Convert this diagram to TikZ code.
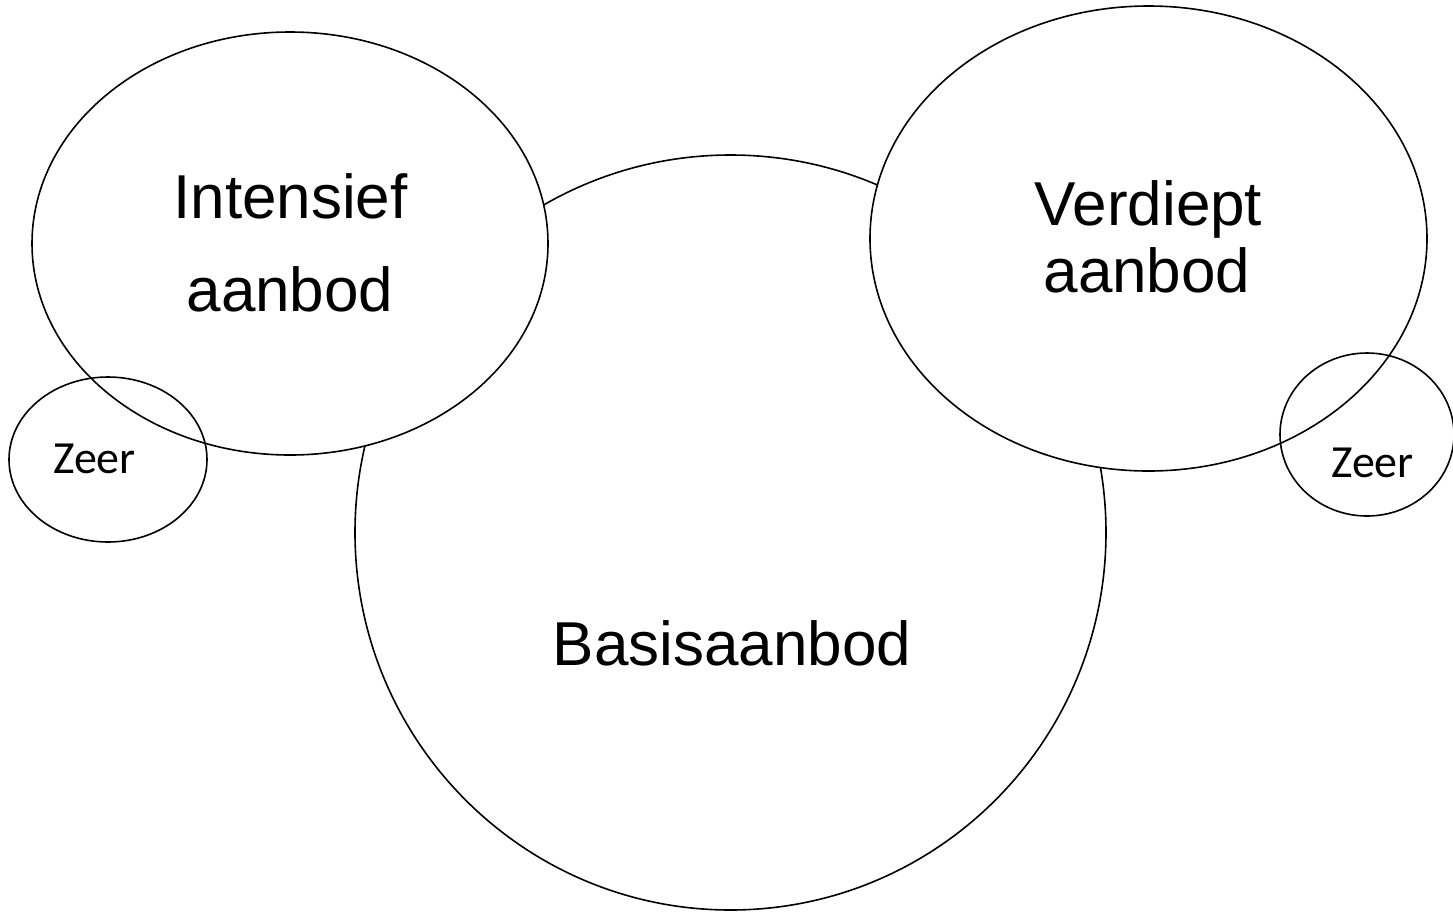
\documentclass[tikz,border=0pt]{standalone}
\usepackage{fontspec}
\setmainfont{Liberation Sans}
\newfontfamily\zeerfont{Carlito}
\usepackage{tikz}
\usetikzlibrary{shapes.geometric}

\begin{document}
\begin{tikzpicture}[x = 0.5pt, y = -0.5pt]
\tikzset{
  bubble/.style = {ellipse, draw, line width = 0.8pt, inner sep = 0pt},
  bigtext/.style = {anchor = base, font = \fontsize{31}{36}\selectfont},
  zeertext/.style = {anchor = base, font = \zeerfont\fontsize{23}{28}\selectfont}
}
\useasboundingbox (0, 0) rectangle (1453, 912);

% basis
\node [bubble, fill = white, minimum width = 375.5pt, minimum height = 377.5pt] (basis) at (730.5, 532.5) {};
\node [bigtext] (basisText) at (732, 665) {Basisaanbod};

% intensief
\node [bubble, fill = white, minimum width = 258pt, minimum height = 211.5pt] (intensief) at (290, 243.5) {};
\node [bigtext] (intensiefTextA) at (290.5, 218) {Intensief};
\node [bigtext] (intensiefTextB) at (290, 311) {aanbod};

% verdiept
\node [bubble, fill = white, minimum width = 278.5pt, minimum height = 232.5pt] (verdiept) at (1148.5, 238.5) {};
\node [bigtext] (verdieptTextA) at (1148.5, 225) {Verdiept};
\node [bigtext] (verdieptTextB) at (1147, 292) {aanbod};

% zeer
\node [bubble, minimum width = 99pt, minimum height = 82.5pt] (zeerL) at (108, 459.5) {};
\node [zeertext] (zeerLText) at (94.5, 473) {Zeer};
\node [bubble, minimum width = 87pt, minimum height = 81.5pt] (zeerR) at (1367, 434.5) {};
\node [zeertext] (zeerRText) at (1372.5, 477) {Zeer};
\end{tikzpicture}
\end{document}
